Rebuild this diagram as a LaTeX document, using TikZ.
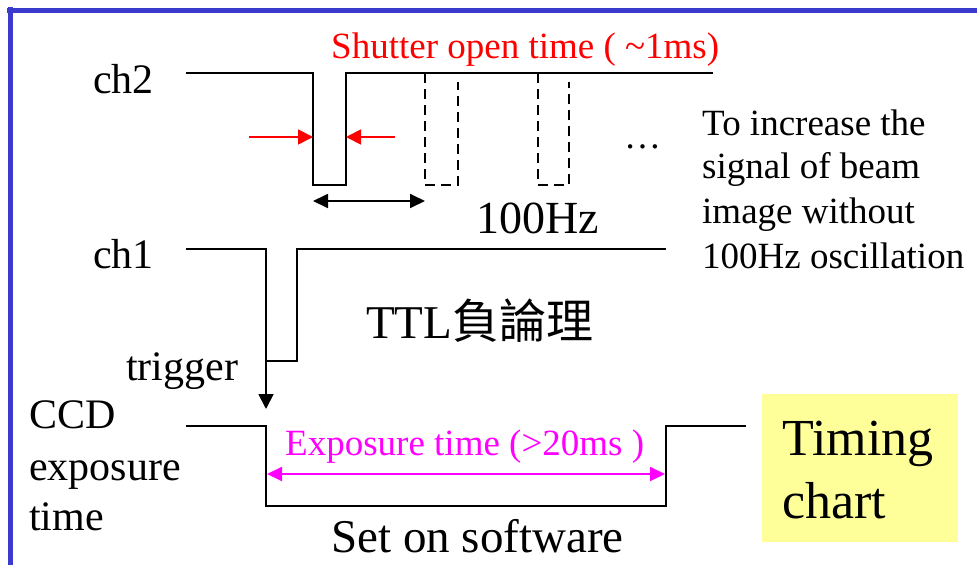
\documentclass[tikz,border=0pt]{standalone}
\usepackage{fontspec}
\setmainfont{Liberation Serif}
\newfontfamily\cjk{Noto Sans CJK TC}
\usetikzlibrary{arrows.meta}
\definecolor{frameblue}{RGB}{58,58,204}
\definecolor{boxyellow}{RGB}{255,255,153}
\definecolor{magentaline}{RGB}{255,0,255}
\tikzset{
  wave/.style={line width=2.6pt, line join=miter},
  dwave/.style={line width=2.4pt, dash pattern=on 10pt off 6pt},
  lbl/.style={anchor=base west, inner sep=0pt, font=\fontsize{42}{44}\selectfont},
  side/.style={anchor=base west, inner sep=0pt, font=\fontsize{37}{44}\selectfont},
  big/.style={anchor=base west, inner sep=0pt, font=\fontsize{47}{50}\selectfont},
  tip/.style={-{Triangle[length=15pt,width=15pt]}},
  dtip/.style={{Triangle[length=15pt,width=14pt]}-{Triangle[length=15pt,width=14pt]}},
}
\begin{document}
\begin{tikzpicture}[x=1pt,y=-1pt]
\useasboundingbox (0,0) rectangle (977,565);
% frame
\draw[frameblue, line width=5pt] (7,10) -- (977,10);
\draw[frameblue, line width=5pt] (10,7) -- (10,565);

% ch2 waveform
\coordinate (c2a) at (186,73);
\coordinate (c2b) at (313,73);
\coordinate (c2c) at (313,185);
\coordinate (c2d) at (346,185);
\coordinate (c2e) at (346,73);
\coordinate (c2f) at (713,73);
\draw[wave] (c2a) -- (c2b) -- (c2c) -- (c2d) -- (c2e) -- (c2f);
\coordinate (p1a) at (425,73);
\coordinate (p1b) at (425,185);
\coordinate (p1c) at (458,185);
\coordinate (p1d) at (458,82);
\draw[dwave] (p1a) -- (p1b) -- (p1c) -- (p1d);
\coordinate (p2a) at (538,73);
\coordinate (p2b) at (538,185);
\coordinate (p2c) at (569,185);
\coordinate (p2d) at (569,82);
\draw[dwave] (p2a) -- (p2b) -- (p2c) -- (p2d);

% red arrows
\coordinate (rl) at (249,137);
\coordinate (rlt) at (313,137);
\coordinate (rr) at (395,137);
\coordinate (rrt) at (346,137);
\draw[red, line width=1.8pt, tip] (rl) -- (rlt);
\draw[red, line width=1.8pt, tip] (rr) -- (rrt);

% period arrow
\coordinate (pa) at (313,201);
\coordinate (pb) at (425,201);
\draw[line width=1.8pt, dtip] (pa) -- (pb);

% ch1 waveform
\coordinate (c1a) at (186,249);
\coordinate (c1b) at (266,249);
\coordinate (c1c) at (266,361);
\coordinate (c1d) at (297,361);
\coordinate (c1e) at (297,249);
\coordinate (c1f) at (666,249);
\draw[wave] (c1a) -- (c1b) -- (c1c) -- (c1d) -- (c1e) -- (c1f);

% trigger arrow
\coordinate (tg) at (266,409);
\draw[line width=1.8pt, tip] (c1c) -- (tg);

% CCD waveform
\coordinate (cda) at (186,426);
\coordinate (cdb) at (266,426);
\coordinate (cdc) at (266,506);
\coordinate (cdd) at (666,506);
\coordinate (cde) at (666,426);
\coordinate (cdf) at (746,426);
\draw[wave] (cda) -- (cdb) -- (cdc) -- (cdd) -- (cde) -- (cdf);

% exposure arrow
\coordinate (ea) at (267,474);
\coordinate (eb) at (665,474);
\draw[magentaline, line width=1.8pt, dtip] (ea) -- (eb);

% labels
\node[lbl] (ch2) at (93,93) {ch2};
\node[lbl] (ch1) at (93,268) {ch1};
\node[lbl] (trig) at (126,380) {trigger};
\node[lbl] (ccd) at (29,428) {CCD};
\node[lbl] (expo) at (29,480) {exposure};
\node[lbl] (tim) at (29,530) {time};

\node[side, text=red] (shut) at (331,58) {Shutter open time ( \textasciitilde 1ms)};
\node[big, font=\fontsize{46}{50}\selectfont] (hz) at (476,233) {100Hz};
\node[big] (ttl) at (366,338) {TTL{\cjk 負論理}};
\node[side, text=magentaline] (exptxt) at (285,455) {Exposure time (>20ms )};
\node[big] (soft) at (331,552) {Set on software};
\node[side] (dots) at (624,148) {\dots};

\node[side] (s1) at (702,135) {To increase the};
\node[side] (s2) at (702,178) {signal of beam};
\node[side] (s3) at (702,223) {image without};
\node[side] (s4) at (702,268) {100Hz oscillation};

% timing chart box
\fill[boxyellow] (762,394) rectangle (958,542);
\node[anchor=base west, inner sep=0pt, font=\fontsize{52}{56}\selectfont] (t1) at (782,455) {Timing};
\node[anchor=base west, inner sep=0pt, font=\fontsize{52}{56}\selectfont] (t2) at (782,518) {chart};
\end{tikzpicture}
\end{document}
